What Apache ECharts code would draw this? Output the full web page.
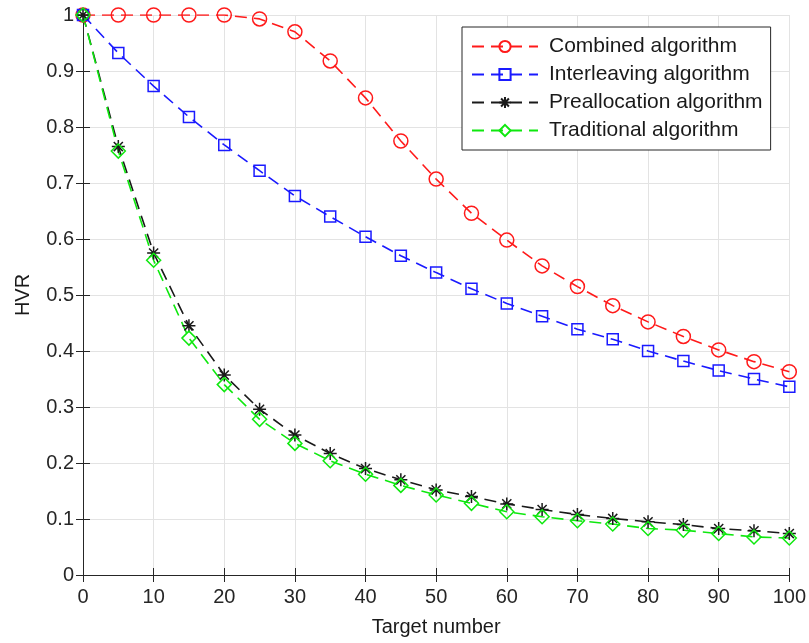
<!DOCTYPE html>
<html>
<head>
<meta charset="utf-8">
<title>HVR vs target number</title>
<script src="https://cdn.jsdelivr.net/npm/echarts@6/dist/echarts.min.js"></script>
<style>
  html, body { margin: 0; padding: 0; background: #fff; }
  #chart { width: 809px; height: 643px; }
</style>
</head>
<body>
<div id="chart"></div>
<script>
// x axis: target number
var targetNumbers = [0, 5, 10, 15, 20, 25, 30, 35, 40, 45, 50, 55, 60, 65, 70, 75, 80, 85, 90, 95, 100]

// HVR
var combined = [1, 1, 1, 1, 1, 0.993, 0.970, 0.918, 0.852, 0.775, 0.707, 0.646, 0.598, 0.552, 0.515, 0.481, 0.452, 0.426, 0.402, 0.381, 0.363]
var interleaving = [1, 0.932, 0.873, 0.818, 0.768, 0.722, 0.677, 0.640, 0.604, 0.570, 0.540, 0.511, 0.485, 0.462, 0.439, 0.421, 0.400, 0.382, 0.365, 0.350, 0.336]
var preallocation = [1, 0.765, 0.575, 0.445, 0.357, 0.296, 0.250, 0.217, 0.190, 0.170, 0.152, 0.140, 0.127, 0.117, 0.108, 0.101, 0.095, 0.090, 0.083, 0.079, 0.074]
var traditional = [1, 0.757, 0.562, 0.423, 0.340, 0.278, 0.235, 0.204, 0.180, 0.160, 0.143, 0.128, 0.113, 0.104, 0.097, 0.091, 0.083, 0.080, 0.074, 0.068, 0.066]

var seriesNames = ['Combined algorithm', 'Interleaving algorithm', 'Preallocation algorithm', 'Traditional algorithm']

var FONT = 'Liberation Sans, Arial, sans-serif'
var AXIS_COLOR = '#262626'
var GRID_COLOR = '#e3e3e3'

// matlab style '*' marker
var starPath = 'path://M6,0V12M0,6H12M1.8,1.8L10.2,10.2M1.8,10.2L10.2,1.8'

function pairs(values) {
  return targetNumbers.map(function (x, i) { return [x, values[i]] })
}

function makeSeries(name, values, color, symbol, size) {
  return {
    name: name,
    type: 'line',
    data: pairs(values),
    symbol: symbol,
    symbolSize: size,
    showAllSymbol: true,
    xAxisIndex: 0,
    yAxisIndex: 0,
    itemStyle: {
      color: 'rgba(0,0,0,0)',
      borderColor: color,
      borderWidth: 1.5
    },
    lineStyle: {
      color: color,
      width: 1.6,
      type: [12, 7]
    },
    emphasis: { disabled: true },
    animation: false
  }
}

var chart = echarts.init(document.getElementById('chart'))

var option = {
  backgroundColor: '#fff',
  textStyle: { fontFamily: FONT },
  grid: {
    left: 83,
    right: 18,
    top: 15,
    bottom: 68
  },
  legend: {
    orient: 'vertical',
    left: 462,
    top: 27,
    width: 310,
    padding: [9, 8, 9, 9],
    itemGap: 7,
    itemWidth: 66,
    itemHeight: 14,
    borderColor: AXIS_COLOR,
    borderWidth: 1,
    backgroundColor: '#fff',
    data: seriesNames,
    textStyle: {
      fontFamily: FONT,
      fontSize: 21,
      color: '#1a1a1a',
      padding: [0, 0, 0, 6]
    }
  },
  xAxis: [
    {
      type: 'value',
      min: 0,
      max: 100,
      interval: 10,
      name: 'Target number',
      nameLocation: 'middle',
      nameGap: 42,
      nameTextStyle: { fontSize: 20, color: '#1a1a1a', fontFamily: FONT },
      axisLine: { show: true, lineStyle: { color: AXIS_COLOR, width: 1 } },
      axisTick: { show: true, inside: true, length: 7, lineStyle: { color: AXIS_COLOR } },
      axisLabel: { fontSize: 20, color: '#262626', margin: 12, fontFamily: FONT },
      splitLine: { show: true, lineStyle: { color: GRID_COLOR, width: 1 } }
    },
    {
      // top edge of the box
      type: 'value',
      position: 'top',
      min: 0,
      max: 100,
      interval: 10,
      axisLine: { show: true, lineStyle: { color: AXIS_COLOR, width: 1 } },
      axisTick: { show: true, inside: true, length: 7, lineStyle: { color: AXIS_COLOR } },
      axisLabel: { show: false },
      splitLine: { show: false }
    }
  ],
  yAxis: [
    {
      type: 'value',
      min: 0,
      max: 1,
      interval: 0.1,
      name: 'HVR',
      nameLocation: 'middle',
      nameGap: 50,
      nameRotate: 90,
      nameTextStyle: { fontSize: 20, color: '#1a1a1a', fontFamily: FONT },
      axisLine: { show: true, lineStyle: { color: AXIS_COLOR, width: 1 } },
      axisTick: { show: true, inside: true, length: 7, lineStyle: { color: AXIS_COLOR } },
      axisLabel: { fontSize: 20, color: '#262626', margin: 9, fontFamily: FONT },
      splitLine: { show: true, lineStyle: { color: GRID_COLOR, width: 1 } }
    },
    {
      // right edge of the box
      type: 'value',
      position: 'right',
      min: 0,
      max: 1,
      interval: 0.1,
      axisLine: { show: true, lineStyle: { color: AXIS_COLOR, width: 1 } },
      axisTick: { show: true, inside: true, length: 7, lineStyle: { color: AXIS_COLOR } },
      axisLabel: { show: false },
      splitLine: { show: false }
    }
  ],
  series: [
    makeSeries(seriesNames[0], combined, '#ff1a1a', 'circle', 14),
    makeSeries(seriesNames[1], interleaving, '#1a1aff', 'rect', 11),
    makeSeries(seriesNames[2], preallocation, '#1a1a1a', starPath, 13),
    makeSeries(seriesNames[3], traditional, '#0ee80e', 'diamond', 14)
  ]
}

chart.setOption(option)
</script>
</body>
</html>
